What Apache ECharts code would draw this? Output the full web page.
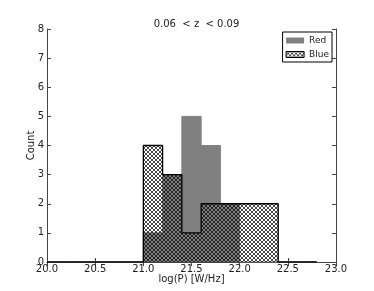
<!DOCTYPE html>
<html><head><meta charset="utf-8">
<script src="https://cdn.jsdelivr.net/npm/echarts@6/dist/echarts.min.js"></script>
<style>html,body{margin:0;padding:0;background:#fff}#c{width:374px;height:291px}</style>
</head><body><div id="c"></div>
<script>
const binEdges = [20.0,20.2,20.4,20.6,20.8,21.0,21.2,21.4,21.6,21.8,22.0,22.2,22.4,22.6,22.8];
const redCounts  = [0,0,0,0,0,1,3,5,4,2,0,0,0,0];
const blueCounts = [0,0,0,0,0,4,3,1,2,2,2,2,0,0];
const xTicks = [20.0,20.5,21.0,21.5,22.0,22.5,23.0];
const yTicks = [0,1,2,3,4,5,6,7,8];

function stepPoints(counts){
  const pts = counts.map((v,i)=>[binEdges[i], v]);
  pts.push([binEdges[binEdges.length-1], counts[counts.length-1]]);
  return pts;
}
const cv = document.createElement('canvas');
cv.width = 4; cv.height = 4;
const cx = cv.getContext('2d');
cx.fillStyle = 'rgba(0,0,0,0.72)';
[[0,0],[1,1],[2,2],[3,3],[3,0],[2,1],[1,2],[0,3]].forEach(p=>cx.fillRect(p[0],p[1],1,1));
const hatch = {image: cv, repeat: 'repeat'};

const chart = echarts.init(document.getElementById('c'), null, {renderer:'canvas'});
const axisCol = '#444';
const font = 'DejaVu Sans';
chart.setOption({
  animation:false,
  textStyle:{fontFamily:font},
  title:{text:'0.06  < z  < 0.09', left:191.5, textAlign:'center', top:14,
         textStyle:{fontSize:10, fontWeight:'normal', color:'#222', fontFamily:font}},
  legend:{orient:'vertical', right:42, top:32, align:'left', padding:[4,3,3,3], itemGap:5,
          itemWidth:18, itemHeight:6, borderColor:'#000', borderWidth:1, backgroundColor:'#fff',
          textStyle:{fontSize:9, color:'#222', padding:[0,0,0,0]},
          data:[
            {name:'Red', icon:'rect', itemStyle:{color:'#808080', borderWidth:0}},
            {name:'Blue', icon:'rect', itemStyle:{color:hatch, borderColor:'#000', borderWidth:1}}
          ]},
  grid:{left:47, right:38, top:29, bottom:29, outerBoundsMode:'none'},
  xAxis:[{type:'value', min:20, max:23, interval:0.5,
          name:'log(P) [W/Hz]', nameLocation:'middle', nameGap:12, nameMoveOverlap:false,
          nameTextStyle:{fontSize:10, color:'#222', verticalAlign:'top'},
          axisLine:{lineStyle:{color:axisCol}}, splitLine:{show:false},
          axisTick:{inside:true, length:4, lineStyle:{color:axisCol}},
          axisLabel:{fontSize:10, color:'#222', margin:2, formatter:v=>xTicks.includes(v)?v.toFixed(1):''}},
         {type:'value', position:'top', min:20, max:23, interval:0.5,
          axisLine:{show:true, lineStyle:{color:axisCol}}, splitLine:{show:false},
          axisTick:{inside:true, length:4, lineStyle:{color:axisCol}}, axisLabel:{show:false}}],
  yAxis:[{type:'value', min:0, max:8, interval:1,
          name:'Count', nameLocation:'middle', nameGap:11, nameMoveOverlap:false,
          nameTextStyle:{fontSize:10, color:'#222'},
          axisLine:{show:true, lineStyle:{color:axisCol}}, splitLine:{show:false},
          axisTick:{show:true, inside:true, length:4, lineStyle:{color:axisCol}},
          axisLabel:{fontSize:10, color:'#222', margin:3, formatter:v=>yTicks.includes(v)?String(v):''}},
         {type:'value', position:'right', min:0, max:8, interval:1,
          axisLine:{show:true, lineStyle:{color:axisCol}}, splitLine:{show:false},
          axisTick:{show:true, inside:true, length:4, lineStyle:{color:axisCol}}, axisLabel:{show:false}}],
  series:[
    {name:'Red', type:'line', step:'end', symbol:'none', data:stepPoints(redCounts),
     lineStyle:{color:'#808080', width:1}, itemStyle:{color:'#808080'},
     areaStyle:{color:'#808080', opacity:1}, z:2},
    {name:'Blue', type:'line', step:'end', symbol:'none', data:stepPoints(blueCounts),
     lineStyle:{color:'#000', width:1.3}, itemStyle:{color:'#000'},
     areaStyle:{color:hatch, opacity:1}, z:3}
  ]
});
</script></body></html>
